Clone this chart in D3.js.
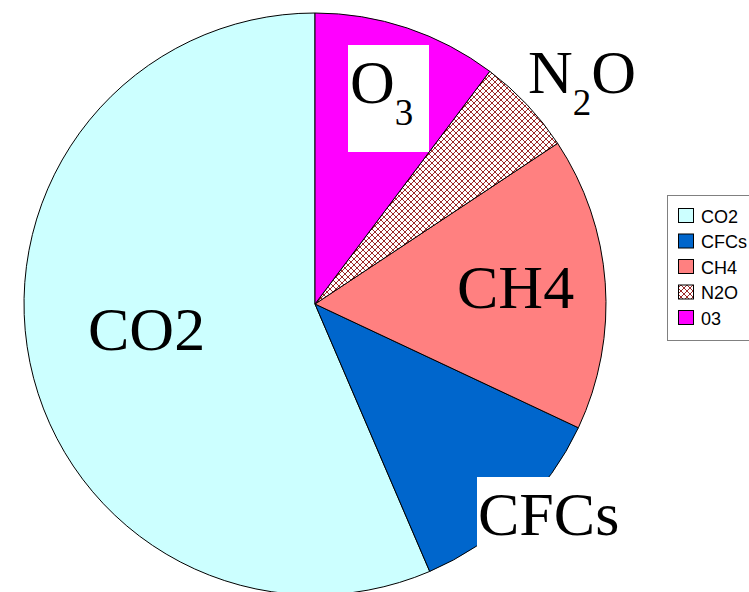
<!DOCTYPE html>
<html>
<head>
<meta charset="utf-8">
<script src="https://cdn.jsdelivr.net/npm/d3@7/dist/d3.min.js"></script>
<style>
  html, body { margin: 0; padding: 0; background: #fff; overflow: hidden; }
  svg { display: block; }
</style>
</head>
<body>
<svg id="chart" width="749" height="592"></svg>
<script>
// ---- data ----
const categories = ["CO2", "CFCs", "CH4", "N2O", "03"];
const values = [56.45, 11.56, 16.30, 5.44, 10.25];
const colors = ["#ccffff", "#0066cc", "#ff8080", "url(#hatch)", "#ff00ff"];

// ---- layout ----
const W = 749, H = 592;
const cx = 315, cy = 304, R = 291;

const svg = d3.select("#chart");
const defs = svg.append("defs");
const pat = defs.append("pattern")
  .attr("id", "hatch")
  .attr("patternUnits", "userSpaceOnUse")
  .attr("width", 6).attr("height", 6);
pat.append("rect").attr("width", 6).attr("height", 6).attr("fill", "#fff");
pat.append("path")
  .attr("d", "M0,0 L6,6 M6,0 L0,6 M-3,3 L3,-3 M3,9 L9,3 M-3,3 L3,9 M3,-3 L9,3")
  .attr("stroke", "#9b2a2a").attr("stroke-width", 1).attr("fill", "none");

const pie = d3.pie().sort(null).value(d => d.v)
  .startAngle(0).endAngle(-2 * Math.PI);
const arc = d3.arc().innerRadius(0).outerRadius(R);
const data = categories.map((c, i) => ({ c, v: values[i], col: colors[i] }));

const g = svg.append("g").attr("transform", `translate(${cx},${cy})`);
g.selectAll("path.slice").data(pie(data)).enter().append("path")
  .attr("class", "slice")
  .attr("d", arc)
  .attr("fill", d => d.data.col)
  .attr("stroke", "#000").attr("stroke-width", 1).attr("stroke-linejoin", "round");

// ---- slice labels ----
const serif = "'Liberation Serif', 'Times New Roman', serif";
const big = 62, sub = 37;

// CO2
svg.append("text").attr("x", cx - 227).attr("y", cy + 46)
  .attr("font-family", serif).attr("font-size", big).text("CO2");
// CH4
svg.append("text").attr("x", cx + 142).attr("y", cy + 4)
  .attr("font-family", serif).attr("font-size", big).text("CH4");
// CFCs with white box
svg.append("rect").attr("x", cx + 162).attr("y", cy + 173)
  .attr("width", 146).attr("height", 70).attr("fill", "#fff");
svg.append("text").attr("x", cx + 163).attr("y", cy + 231)
  .attr("font-family", serif).attr("font-size", big).text("CFCs");
// O3 with white box
svg.append("rect").attr("x", cx + 33).attr("y", cy - 259)
  .attr("width", 81).attr("height", 107).attr("fill", "#fff");
const o3 = svg.append("text").attr("x", cx + 35).attr("y", cy - 201)
  .attr("font-family", serif).attr("font-size", big);
o3.append("tspan").text("O");
o3.append("tspan").attr("font-size", sub).attr("dy", 22).text("3");
// N2O
const n2o = svg.append("text").attr("x", cx + 213).attr("y", cy - 211)
  .attr("font-family", serif).attr("font-size", big);
n2o.append("tspan").text("N");
n2o.append("tspan").attr("font-size", sub).attr("dy", 22).text("2");
n2o.append("tspan").attr("dy", -22).text("O");

// ---- legend ----
const lg = svg.append("g");
lg.append("rect").attr("x", 667.5).attr("y", 195.5)
  .attr("width", 110).attr("height", 145)
  .attr("fill", "#fff").attr("stroke", "#808080").attr("stroke-width", 1);
const rowY = d3.scalePoint().domain(categories).range([216, 318]);
const rows = lg.selectAll("g.row").data(data).enter().append("g").attr("class", "row");
rows.append("rect")
  .attr("x", 678.5).attr("y", d => rowY(d.c) - 7.5)
  .attr("width", 15).attr("height", 14)
  .attr("fill", d => d.col).attr("stroke", "#000").attr("stroke-width", 1);
rows.append("text")
  .attr("x", 701).attr("y", d => rowY(d.c) + 6.5)
  .attr("font-family", "'Liberation Sans', Arial, sans-serif")
  .attr("font-size", 18).attr("fill", "#000")
  .text(d => d.c);
</script>
</body>
</html>
